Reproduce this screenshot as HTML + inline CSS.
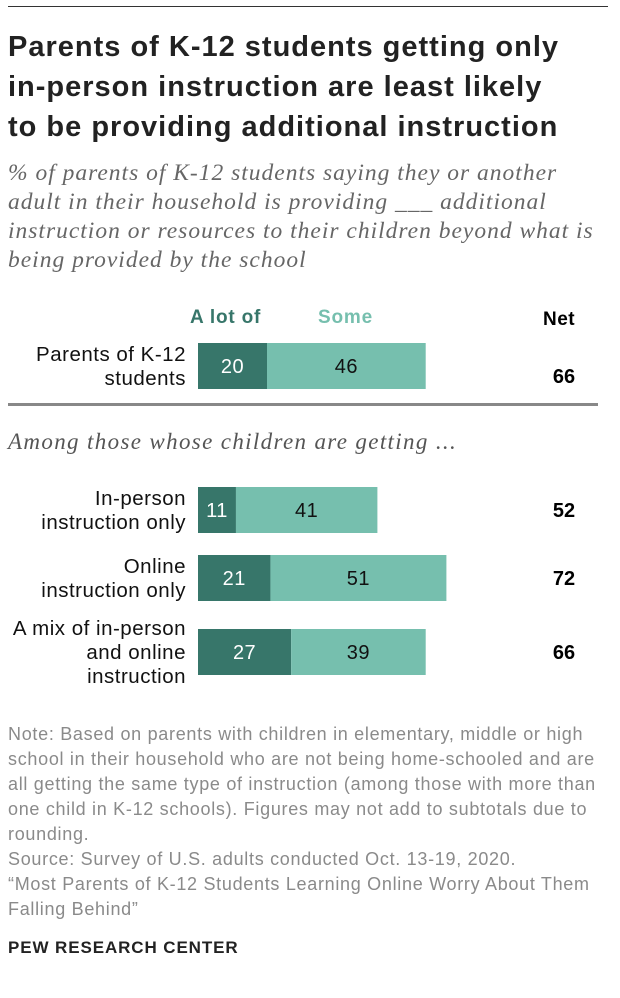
<!DOCTYPE html>
<html><head><meta charset="utf-8"><style>
body{margin:0;width:620px;height:998px;background:#fff;font-family:"Liberation Sans",sans-serif;position:relative;overflow:hidden}
.a{position:absolute;white-space:nowrap}
</style></head><body>
<div class="a" style="left:8px;top:6px;width:600px;height:1px;background:#333"></div>
<div class="a" style="left:8px;top:27px;font-size:29px;font-weight:bold;line-height:40px;color:#222;letter-spacing:1px">Parents of K-12 students getting only<br>in-person instruction are least likely<br>to be providing additional instruction</div>
<div class="a" style="left:8px;top:159px;font-family:'Liberation Serif',serif;font-style:italic;font-size:23.5px;line-height:29px;color:#666;letter-spacing:1px">% of parents of K-12 students saying they or another<br>adult in their household is providing ___ additional<br>instruction or resources to their children beyond what is<br>being provided by the school</div>
<div class="a" style="left:190px;top:307px;font-size:19px;font-weight:bold;color:#37766a;letter-spacing:0.8px">A lot of</div>
<div class="a" style="left:318px;top:307px;font-size:19px;font-weight:bold;color:#76bfae;letter-spacing:0.8px">Some</div>
<div class="a" style="left:543px;top:309px;font-size:19px;font-weight:bold;color:#000;letter-spacing:0.5px">Net</div>
<div class="a" style="left:8px;top:403px;width:590px;height:3px;background:#888"></div>
<div class="a" style="left:8px;top:429px;font-family:'Liberation Serif',serif;font-style:italic;font-size:23px;color:#555;letter-spacing:1.35px">Among those whose children are getting ...</div>
<svg class="a" style="left:0;top:0" width="620" height="700" id="chart"></svg>
<div class="a" style="left:8px;top:722px;font-size:18px;line-height:25px;color:#8a8a8a;letter-spacing:0.7px">Note: Based on parents with children in elementary, middle or high<br>school in their household who are not being home-schooled and are<br>all getting the same type of instruction (among those with more than<br>one child in K-12 schools). Figures may not add to subtotals due to<br>rounding.<br>Source: Survey of U.S. adults conducted Oct. 13-19, 2020.<br>“Most Parents of K-12 Students Learning Online Worry About Them<br>Falling Behind”</div>
<div class="a" style="left:8px;top:938px;font-size:17px;font-weight:bold;color:#222;letter-spacing:0.9px">PEW RESEARCH CENTER</div>
<script>
const categories=[["Parents of K-12","students"],["In-person","instruction only"],["Online","instruction only"],["A mix of in-person","and online","instruction"]];
const aLotOf=[20,11,21,27];
const some=[46,41,51,39];
const net=[66,52,72,66];
const rowTops=[343,487,555,629];
const x0=198,scale=3.45,bh=46;
const svg=document.getElementById('chart');
const NS='http://www.w3.org/2000/svg';
function x(v){return x0+v*scale;}
function mk(t,a){const e=document.createElementNS(NS,t);for(const k in a)e.setAttribute(k,a[k]);svg.appendChild(e);return e;}
categories.forEach((c,i)=>{
 const y=rowTops[i];
 const r1=mk('rect',{x:x(0),y:y,width:x(aLotOf[i])-x(0),height:bh,fill:'#37766a'});
 
 
 const r2=mk('rect',{x:x(aLotOf[i]),y:y,width:x(aLotOf[i]+some[i])-x(aLotOf[i]),height:bh,fill:'#76bfae'});
 
 
 const t1=mk('text',{x:(x(0)+x(aLotOf[i]))/2,y:y+bh/2+7,'text-anchor':'middle','font-size':20,fill:'#fff','font-family':'Liberation Sans','letter-spacing':0.5});
 t1.textContent=aLotOf[i];
 
 
 const t2=mk('text',{x:(x(aLotOf[i])+x(aLotOf[i]+some[i]))/2,y:y+bh/2+7,'text-anchor':'middle','font-size':20,fill:'#111','font-family':'Liberation Sans','letter-spacing':0.5});
 t2.textContent=some[i];
 
 
 const ny=i==0?y+bh/2+17:y+bh/2+7;
 const t3=mk('text',{x:564,y:ny,'text-anchor':'middle','font-size':20,'font-weight':'bold',fill:'#000','font-family':'Liberation Sans'});
 t3.textContent=net[i];
 
 
 const n=c.length,lh=24,start=y+bh/2-(n-1)*lh/2+7;
 c.forEach((line,j)=>{
  const l=mk('text',{x:186,y:start+j*lh,'text-anchor':'end','font-size':20.5,fill:'#111','font-family':'Liberation Sans','letter-spacing':0.5});
  l.textContent=line;
  
  
 });
});
</script>
</body></html>
